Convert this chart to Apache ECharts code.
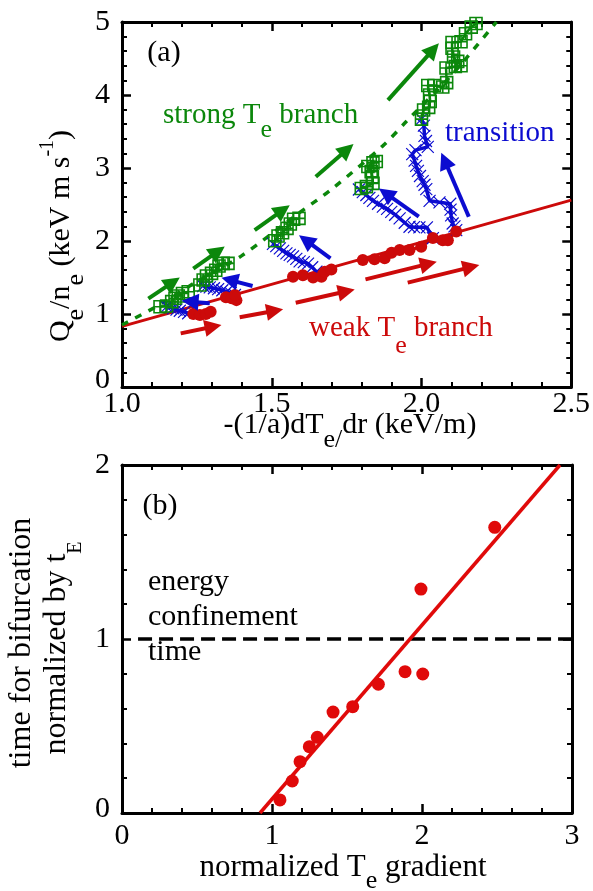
<!DOCTYPE html>
<html><head><meta charset="utf-8">
<script src="https://cdn.jsdelivr.net/npm/echarts@6/dist/echarts.min.js"></script>
<style>html,body{margin:0;padding:0;background:#fff}#c{width:593px;height:891px}</style>
</head><body><div id="c"></div>
<script>
// ---------- Panel (a) data ----------
const xTicksA = [1.0, 1.5, 2.0, 2.5];
const yTicksA = [0, 1, 2, 3, 4, 5];
// weak Te branch fit line
const weakFitX = [1.0, 2.5];
const weakFitY = [0.83, 2.56];
// strong Te branch (dashed curve)
const strongCurveX = [1.0, 1.14, 1.24, 1.40, 1.59, 1.70, 1.87, 1.95, 2.10, 2.25];
const strongCurveY = [0.85, 1.16, 1.42, 1.80, 2.38, 2.71, 3.30, 3.64, 4.27, 5.0];
// strong branch data (green squares)
const g1x = [1.127, 1.149, 1.166, 1.177, 1.188, 1.202, 1.221];
const g1y = [1.10, 1.11, 1.17, 1.215, 1.247, 1.28, 1.305];
const g2x = [1.26, 1.271, 1.282, 1.299, 1.313, 1.324, 1.338, 1.354];
const g2y = [1.397, 1.466, 1.52, 1.557, 1.60, 1.658, 1.694, 1.694];
const g3x = [1.51, 1.521, 1.536, 1.551, 1.562, 1.573, 1.591];
const g3y = [2.004, 2.068, 2.114, 2.173, 2.233, 2.297, 2.31];
const g4x = [1.799, 1.816, 1.838, 1.836, 1.832, 1.821, 1.838, 1.849];
const g4y = [2.72, 2.745, 2.79, 2.88, 2.95, 3.02, 3.07, 3.09];
const g5x = [2.0, 2.007, 2.024, 2.029, 2.027, 2.021, 2.043, 2.071, 2.084, 2.082, 2.113, 2.121, 2.132, 2.107, 2.102, 2.102, 2.132, 2.147, 2.166, 2.182];
const g5y = [3.67, 3.795, 3.83, 3.91, 4.0, 4.13, 4.13, 4.11, 4.17, 4.37, 4.39, 4.46, 4.40, 4.52, 4.64, 4.72, 4.73, 4.84, 4.93, 4.98];
// transitions (blue crosses)
const bAx = [2.038, 2.018, 1.993, 1.975, 1.96, 1.944, 1.927, 1.912, 1.899, 1.885, 1.871, 1.855, 1.838, 1.826, 1.816, 1.804, 1.791];
const bAy = [2.04, 2.187, 2.187, 2.19, 2.195, 2.25, 2.31, 2.36, 2.40, 2.44, 2.47, 2.51, 2.55, 2.59, 2.63, 2.67, 2.705];
const bBx = [2.116, 2.11, 2.104, 2.099, 2.097, 2.096, 2.06, 2.027, 2.016, 2.01, 2.004, 1.995, 1.988, 1.982, 1.977, 1.969, 1.98, 2.021, 2.015, 2.01, 2.008, 2.0];
const bBy = [2.15, 2.20, 2.24, 2.35, 2.43, 2.51, 2.53, 2.55, 2.71, 2.77, 2.82, 2.89, 2.96, 3.03, 3.10, 3.19, 3.245, 3.29, 3.37, 3.44, 3.58, 3.67];
const bCx = [1.649, 1.635, 1.621, 1.607, 1.593, 1.582, 1.571, 1.56, 1.549, 1.538, 1.527, 1.515, 1.504];
const bCy = [1.58, 1.64, 1.69, 1.71, 1.72, 1.755, 1.79, 1.81, 1.83, 1.865, 1.90, 1.93, 1.96];
const bDx = [1.377, 1.363, 1.349, 1.335, 1.321, 1.307, 1.293, 1.282, 1.271];
const bDy = [1.26, 1.285, 1.305, 1.325, 1.34, 1.353, 1.365, 1.375, 1.383];
const bEx = [1.221, 1.207, 1.193, 1.182, 1.171, 1.16, 1.149];
const bEy = [1.01, 1.03, 1.045, 1.06, 1.078, 1.09, 1.10];
// weak branch data (red circles)
const r1x = [1.238, 1.26, 1.28, 1.296];
const r1y = [1.0, 0.986, 1.0, 1.03];
const r2x = [1.347, 1.366, 1.382, 1.377];
const r2y = [1.228, 1.215, 1.19, 1.26];
const r3x = [1.571, 1.604, 1.638, 1.666, 1.677, 1.699];
const r3y = [1.51, 1.53, 1.50, 1.51, 1.58, 1.61];
const r4x = [1.804, 1.843, 1.877, 1.90, 1.927, 1.96, 1.999, 2.038, 2.071, 2.088, 2.116];
const r4y = [1.74, 1.75, 1.763, 1.84, 1.877, 1.877, 1.92, 2.04, 2.01, 2.01, 2.13];
// arrows [x1, y1, x2(tip), y2(tip)]
const greenArrows = [[1.088, 1.21, 1.193, 1.50], [1.238, 1.62, 1.343, 1.925], [1.443, 2.15, 1.56, 2.49], [1.647, 2.88, 1.773, 3.33], [1.888, 3.93, 2.058, 4.71]];
const blueArrows = [[1.436, 1.384, 1.332, 1.497], [1.293, 1.147, 1.199, 1.18], [1.696, 1.763, 1.591, 2.08], [1.991, 2.333, 1.858, 2.72], [2.158, 2.333, 2.066, 3.21]];
const redArrows = [[1.196, 0.735, 1.332, 0.849], [1.393, 0.955, 1.538, 1.064], [1.58, 1.155, 1.777, 1.335], [1.813, 1.475, 2.051, 1.716], [1.954, 1.429, 2.193, 1.671]];

// ---------- Panel (b) data ----------
const xTicksB = [0, 1, 2, 3];
const yTicksB = [0, 1, 2];
const bifX = [1.053, 1.135, 1.187, 1.249, 1.302, 1.407, 1.538, 1.709, 1.887, 2.005, 1.993, 2.485];
const bifY = [0.075, 0.184, 0.295, 0.381, 0.435, 0.580, 0.611, 0.740, 0.812, 0.799, 1.287, 1.642];
const bifFitX = [0.92, 2.92];
const bifFitY = [0, 2];
const confX = [0.107, 3.0];
const confY = [1, 1];

// ---------- styles ----------
const FONT = 'Liberation Serif, Times New Roman, serif';
const GREEN = '#0b870b', BLUE = '#0c0cd0', RED = '#cc0a0a', RED2 = '#e00a0a';
const zip = (xs, ys) => xs.map((x, i) => [x, ys[i]]);
const SQ = 'path://M0,0H12V12H0Z M6,0V12 M0,6H12';
const XM = 'path://M0,0L12,12M12,0L0,12';

function axis(gridIndex, min, max, interval, position, showLabel, fmt, margin) {
  return {
    type: 'value', gridIndex, min, max, interval, position,
    axisLine: { show: true, onZero: false, lineStyle: { color: '#000', width: 3 } },
    axisTick: { show: true, inside: true, length: 9, lineStyle: { color: '#000', width: 2.5 } },
    minorTick: { show: true, splitNumber: 5, length: 5, lineStyle: { color: '#000', width: 2 } },
    splitLine: { show: false }, minorSplitLine: { show: false },
    axisLabel: {
      show: showLabel, fontFamily: FONT, fontSize: 30, color: '#000', margin: margin,
      formatter: fmt,
      rich: { z: { fontFamily: FONT, fontSize: 30, color: '#000', padding: [0, 0, 14, 0] },
              w: { fontFamily: FONT, fontSize: 30, color: '#000', padding: [0, 0, 8, 0] } }
    }
  };
}

function arrowRender(color) {
  return function (params, api) {
    const p1 = api.coord([api.value(0), api.value(1)]);
    const p2 = api.coord([api.value(2), api.value(3)]);
    const dx = p2[0] - p1[0], dy = p2[1] - p1[1], L = Math.hypot(dx, dy);
    const ux = dx / L, uy = dy / L, hl = 17, hw = 8.5;
    const bx = p2[0] - ux * hl, by = p2[1] - uy * hl;
    return { type: 'group', children: [
      { type: 'line', shape: { x1: p1[0], y1: p1[1], x2: bx + ux * 2, y2: by + uy * 2 }, style: { stroke: color, lineWidth: 4 } },
      { type: 'polygon', shape: { points: [[p2[0], p2[1]], [bx - uy * hw, by + ux * hw], [bx + uy * hw, by - ux * hw]] }, style: { fill: color } }
    ] };
  };
}
function arrowSeries(data, color) {
  return { type: 'custom', xAxisIndex: 0, yAxisIndex: 0, data: data, renderItem: arrowRender(color),
           encode: { x: [0, 2], y: [1, 3] }, z: 4, silent: true };
}
function lineSeries(xs, ys, color, symbol, size, width, z, bw) {
  return { type: 'line', xAxisIndex: 0, yAxisIndex: 0, data: zip(xs, ys), symbol: symbol, symbolSize: size,
           showSymbol: true, lineStyle: { color: color, width: width },
           itemStyle: symbol === 'circle' ? { color: color } : { color: 'rgba(0,0,0,0)', borderColor: color, borderWidth: bw || 1.3 },
           z: z, silent: true };
}

function richText(x, y, parts, color, opt) {
  opt = opt || {};
  const F = opt.F || 29, S = opt.S || 26, drop = opt.drop || 15;
  const nBase = 8 + F / 2 + 0.3375 * F;
  const P = nBase + drop - (S / 2 + 0.3375 * S);
  const text = parts.map(p => '{' + p[0] + '|' + p[1] + '}').join('');
  return {
    type: 'text', x: x, y: y, rotation: opt.rot || 0, silent: true,
    style: {
      text: text, fill: color, align: opt.align || 'left', verticalAlign: 'top',
      font: F + 'px ' + FONT,
      rich: {
        n: { fontSize: F, fontFamily: FONT, lineHeight: F, padding: [8, 0, 0, 0], verticalAlign: 'top' },
        s: { fontSize: S, fontFamily: FONT, lineHeight: S, padding: [P, 0, 0, 0], verticalAlign: 'top' },
        p: { fontSize: 20, fontFamily: FONT, lineHeight: 20, padding: [0, 0, 0, 0], verticalAlign: 'top' }
      }
    }
  };
}

const chart = echarts.init(document.getElementById('c'), null, { renderer: 'canvas' });
chart.setOption({
  animation: false,
  backgroundColor: '#fff',
  grid: [
    { left: 122, top: 22, width: 450, height: 365 },
    { left: 122, top: 465, width: 450, height: 348 }
  ],
  xAxis: [
    axis(0, xTicksA[0], xTicksA[xTicksA.length - 1], 0.5, 'bottom', true, v => v.toFixed(1), 2),
    axis(0, xTicksA[0], xTicksA[xTicksA.length - 1], 0.5, 'top', false),
    axis(1, xTicksB[0], xTicksB[xTicksB.length - 1], 1, 'bottom', true, v => String(v), 8),
    axis(1, xTicksB[0], xTicksB[xTicksB.length - 1], 1, 'top', false)
  ],
  yAxis: [
    axis(0, yTicksA[0], yTicksA[yTicksA.length - 1], 1, 'left', true, v => v === 0 ? '{z|0}' : String(v), 12),
    axis(0, yTicksA[0], yTicksA[yTicksA.length - 1], 1, 'right', false),
    axis(1, yTicksB[0], yTicksB[yTicksB.length - 1], 1, 'left', true, v => v === 0 ? '{w|0}' : String(v), 12),
    axis(1, yTicksB[0], yTicksB[yTicksB.length - 1], 1, 'right', false)
  ],
  series: [
    { type: 'line', xAxisIndex: 0, yAxisIndex: 0, data: zip(weakFitX, weakFitY), symbol: 'none',
      lineStyle: { color: RED, width: 3 }, z: 2, silent: true },
    { type: 'line', xAxisIndex: 0, yAxisIndex: 0, data: zip(strongCurveX, strongCurveY), symbol: 'none', smooth: 0.3,
      lineStyle: { color: GREEN, width: 3.5, type: [7, 8] }, z: 2, silent: true },
    lineSeries(bAx, bAy, BLUE, XM, 12, 3.5, 3, 1.2),
    lineSeries(bBx, bBy, BLUE, XM, 12, 3.5, 3, 1.2),
    lineSeries(bCx, bCy, BLUE, XM, 12, 3.5, 3, 1.2),
    lineSeries(bDx, bDy, BLUE, XM, 12, 3.5, 3, 1.2),
    lineSeries(bEx, bEy, BLUE, XM, 12, 3.5, 3, 1.2),
    lineSeries(g1x, g1y, GREEN, SQ, 12, 2.5, 3, 1.6),
    lineSeries(g2x, g2y, GREEN, SQ, 12, 2.5, 3, 1.6),
    lineSeries(g3x, g3y, GREEN, SQ, 12, 2.5, 3, 1.6),
    lineSeries(g4x, g4y, GREEN, SQ, 12, 2.5, 3, 1.6),
    lineSeries(g5x, g5y, GREEN, SQ, 12, 2.5, 3, 1.6),
    lineSeries(r1x, r1y, RED, 'circle', 12, 3, 3),
    lineSeries(r2x, r2y, RED, 'circle', 12, 3, 3),
    lineSeries(r3x, r3y, RED, 'circle', 12, 3, 3),
    lineSeries(r4x, r4y, RED, 'circle', 12, 3, 3),
    arrowSeries(greenArrows, GREEN),
    arrowSeries(blueArrows, BLUE),
    arrowSeries(redArrows, RED),
    // panel (b)
    { type: 'line', xAxisIndex: 2, yAxisIndex: 2, data: zip(confX, confY), symbol: 'none',
      lineStyle: { color: '#000', width: 3.5, type: [14, 7] }, z: 2, silent: true },
    { type: 'line', xAxisIndex: 2, yAxisIndex: 2, data: zip(bifFitX, bifFitY), symbol: 'none',
      lineStyle: { color: RED2, width: 3.5 }, z: 2, silent: true },
    { type: 'scatter', xAxisIndex: 2, yAxisIndex: 2, data: zip(bifX, bifY), symbol: 'circle', symbolSize: 13,
      itemStyle: { color: RED2, opacity: 1 }, z: 3, silent: true }
  ],
  graphic: [
    { type: 'text', x: 164, y: 53, silent: true, style: { text: '(a)', font: '30px ' + FONT, fill: '#000', align: 'center', verticalAlign: 'middle' } },
    richText(163, 93, [['n', 'strong T'], ['s', 'e'], ['n', ' branch']], GREEN, { drop: 14 }),
    richText(445, 111, [['n', 'transition']], BLUE, {}),
    richText(309, 306, [['n', 'weak T'], ['s', 'e'], ['n', ' branch']], RED, { drop: 17 }),
    richText(350, 402, [['n', '-(1/a)dT'], ['s', 'e/'], ['n', 'dr (keV/m)']], '#000', { F: 30, align: 'center', drop: 14 }),
    richText(38, 236, [['n', 'Q'], ['s', 'e'], ['n', '/n'], ['s', 'e'], ['n', ' (keV m s'], ['p', '-1'], ['n', ')']], '#000', { F: 30, align: 'center', drop: 14, rot: Math.PI / 2 }),
    { type: 'text', x: 160, y: 506, silent: true, style: { text: '(b)', font: '30px ' + FONT, fill: '#000', align: 'center', verticalAlign: 'middle' } },
    { type: 'text', x: 148, y: 565, silent: true, style: { text: 'energy\nconfinement\ntime', font: '30px ' + FONT, fill: '#000', align: 'left', verticalAlign: 'top', lineHeight: 35 } },
    richText(343, 844, [['n', 'normalized T'], ['s', 'e'], ['n', ' gradient']], '#000', { F: 31, align: 'center', drop: 12 }),
    richText(-2, 643, [['n', 'time for bifurcation']], '#000', { F: 32, align: 'center', rot: Math.PI / 2 }),
    richText(33, 648, [['n', 'normalized by t'], ['s', 'E']], '#000', { F: 32, S: 20, align: 'center', drop: 15, rot: Math.PI / 2 })
  ]
});
</script></body></html>
